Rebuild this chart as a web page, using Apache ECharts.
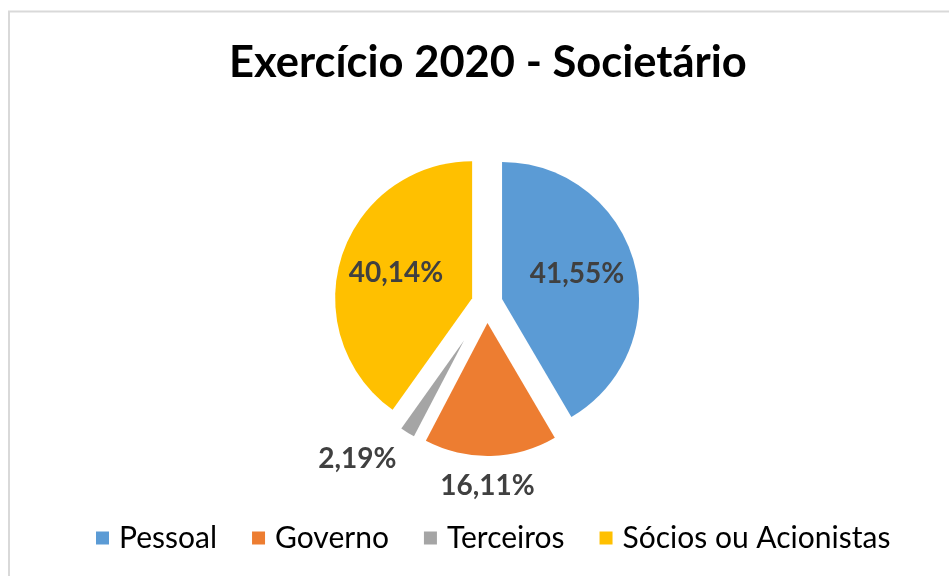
<!DOCTYPE html>
<html lang="pt-BR">
<head>
    <meta charset="UTF-8">
    <title>Exercício 2020 - Societário</title>
    <script type="text/javascript" src="https://cdn.jsdelivr.net/npm/echarts@6/dist/echarts.min.js"></script>
    <style>
        html, body { margin: 0; padding: 0; background: #fff; }
        #chart { width: 949px; height: 576px; }
    </style>
</head>
<body>
<div id="chart"></div>

<script type="text/javascript">
    // dados
    var categorias = ['Pessoal', 'Governo', 'Terceiros', 'Sócios ou Acionistas'];
    var valores = [41.55, 16.11, 2.19, 40.14];
    var cores = ['#5B9BD5', '#ED7D31', '#A5A5A5', '#FFC000'];

    // aparência de cada fatia
    var raios = [137, 133, 108, 137];
    var afastamentos = [15.6, 20, 44, 15.6];
    // rótulo dentro da fatia (true) ou fora, num anel sem cor (false)
    var rotuloDentro = [true, false, false, true];
    var deslocRotulo = [[6, -6], [-4, 0], [-34, 0], [-8, -3]];

    var total = valores.reduce(function(a, b) { return a + b; }, 0);
    var centro = [487, 303];

    function fmt(v) {
        return v.toFixed(2).replace('.', ',') + '%';
    }

    function padH(dx) {
        return [0, dx < 0 ? -2 * dx : 0, 0, dx > 0 ? 2 * dx : 0];
    }

    var estiloRotulo = {
        fontFamily: 'Lato',
        fontWeight: 'bold',
        fontSize: 28,
        color: '#404040'
    };

    var series = [];
    var acumulado = 0;
    for (var i = 0; i < categorias.length; i++) {
        var dy = deslocRotulo[i][1];
        var txt = fmt(valores[i]);
        if (dy > 0) txt = '\n\n' + txt;
        if (dy < 0) txt = txt + '\n\n';
        series.push({
            type: 'pie',
            center: centro,
            radius: [0, raios[i]],
            startAngle: 90 - 360 * acumulado / total,
            clockwise: true,
            selectedMode: 'single',
            selectedOffset: afastamentos[i],
            animation: false,
            silent: true,
            label: Object.assign({
                show: rotuloDentro[i],
                position: 'inside',
                padding: padH(deslocRotulo[i][0]),
                lineHeight: dy !== 0 ? Math.abs(dy) : 34,
                formatter: txt
            }, estiloRotulo),
            labelLine: { show: false },
            itemStyle: { borderWidth: 0 },
            data: [
                {
                    name: categorias[i],
                    value: valores[i],
                    selected: true,
                    itemStyle: { color: cores[i] }
                },
                {
                    name: '',
                    value: total - valores[i],
                    itemStyle: { color: 'rgba(0,0,0,0)' },
                    label: { show: false }
                }
            ]
        });
        acumulado += valores[i];
    }

    // anel invisível que só carrega os rótulos de fora
    series.push({
        type: 'pie',
        center: centro,
        radius: [163, 197],
        startAngle: 90,
        clockwise: true,
        animation: false,
        silent: true,
        itemStyle: { color: 'rgba(0,0,0,0)', borderWidth: 0 },
        labelLine: { show: false },
        data: categorias.map(function(c, k) {
            return {
                name: c,
                value: valores[k],
                label: Object.assign({
                    show: !rotuloDentro[k],
                    position: 'inside',
                    padding: padH(deslocRotulo[k][0]),
                    formatter: fmt(valores[k])
                }, estiloRotulo)
            };
        })
    });

    var chart = echarts.init(document.getElementById('chart'));

    chart.setOption({
        backgroundColor: '#ffffff',
        title: {
            text: 'Exercício 2020 - Societário',
            left: 229,
            top: 41,
            padding: 0,
            textStyle: {
                fontFamily: 'Lato',
                fontWeight: 'bold',
                fontSize: 43.5,
                color: '#000000'
            }
        },
        legend: {
            data: categorias.map(function(c, k) {
                return { name: c, icon: 'rect', itemStyle: { color: cores[k] } };
            }),
            left: 96,
            top: 523,
            padding: 0,
            itemWidth: 13,
            itemHeight: 13,
            itemGap: 35,
            selectedMode: false,
            textStyle: {
                fontFamily: 'Lato',
                fontSize: 30,
                color: '#000000',
                padding: [0, 0, 0, 5]
            }
        },
        graphic: [{
            type: 'rect',
            shape: { x: 9, y: 11.5, width: 1200, height: 1000 },
            style: { fill: 'none', stroke: '#d9d9d9', lineWidth: 2 },
            silent: true
        }],
        series: series
    });
</script>
</body>
</html>
